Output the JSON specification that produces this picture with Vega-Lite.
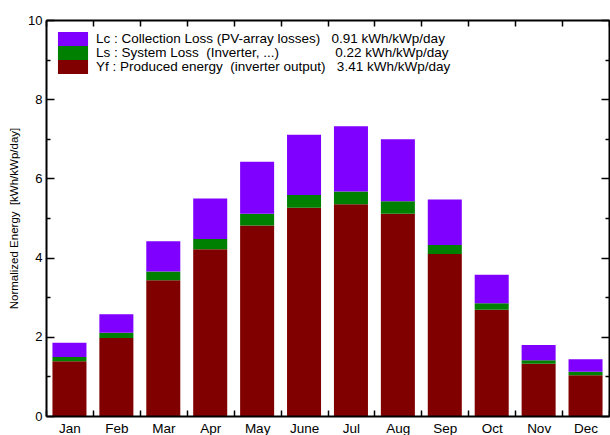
{
  "$schema": "https://vega.github.io/schema/vega-lite/v6.json",
  "width": 563,
  "height": 396,
  "autosize": {"type": "none"},
  "padding": {"left": 46, "top": 20, "right": 1, "bottom": 19},
  "background": "white",
  "data": {"values": [
    {"m": "Jan", "t": "Yf", "v": 1.38}, {"m": "Jan", "t": "Ls", "v": 0.11}, {"m": "Jan", "t": "Lc", "v": 0.36},
    {"m": "Feb", "t": "Yf", "v": 1.97}, {"m": "Feb", "t": "Ls", "v": 0.13}, {"m": "Feb", "t": "Lc", "v": 0.47},
    {"m": "Mar", "t": "Yf", "v": 3.43}, {"m": "Mar", "t": "Ls", "v": 0.22}, {"m": "Mar", "t": "Lc", "v": 0.76},
    {"m": "Apr", "t": "Yf", "v": 4.21}, {"m": "Apr", "t": "Ls", "v": 0.26}, {"m": "Apr", "t": "Lc", "v": 1.02},
    {"m": "May", "t": "Yf", "v": 4.81}, {"m": "May", "t": "Ls", "v": 0.30}, {"m": "May", "t": "Lc", "v": 1.31},
    {"m": "June", "t": "Yf", "v": 5.26}, {"m": "June", "t": "Ls", "v": 0.32}, {"m": "June", "t": "Lc", "v": 1.52},
    {"m": "Jul", "t": "Yf", "v": 5.35}, {"m": "Jul", "t": "Ls", "v": 0.32}, {"m": "Jul", "t": "Lc", "v": 1.65},
    {"m": "Aug", "t": "Yf", "v": 5.11}, {"m": "Aug", "t": "Ls", "v": 0.31}, {"m": "Aug", "t": "Lc", "v": 1.57},
    {"m": "Sep", "t": "Yf", "v": 4.09}, {"m": "Sep", "t": "Ls", "v": 0.23}, {"m": "Sep", "t": "Lc", "v": 1.15},
    {"m": "Oct", "t": "Yf", "v": 2.68}, {"m": "Oct", "t": "Ls", "v": 0.17}, {"m": "Oct", "t": "Lc", "v": 0.72},
    {"m": "Nov", "t": "Yf", "v": 1.32}, {"m": "Nov", "t": "Ls", "v": 0.09}, {"m": "Nov", "t": "Lc", "v": 0.38},
    {"m": "Dec", "t": "Yf", "v": 1.03}, {"m": "Dec", "t": "Ls", "v": 0.09}, {"m": "Dec", "t": "Lc", "v": 0.31}
  ]},
  "layer": [
    {
      "mark": {"type": "bar", "width": {"band": 0.725}},
      "encoding": {
        "x": {
          "field": "m", "type": "nominal", "sort": null,
          "scale": {"paddingInner": 0, "paddingOuter": 0},
          "axis": {
            "orient": "bottom", "title": null, "labelAngle": 0,
            "tickBand": "extent", "tickSize": -6, "tickColor": "black", "tickWidth": 1.5,
            "labelPadding": 11, "labelFont": "Liberation Sans", "labelFontSize": 13.5, "labelColor": "black",
            "domainColor": "black", "domainWidth": 2, "zindex": 1
          }
        },
        "y": {
          "field": "v", "type": "quantitative", "stack": "zero",
          "scale": {"domain": [0, 10], "nice": false},
          "axis": {
            "orient": "left", "title": "Normalized Energy \u00a0[kWh/kWp/day]",
            "values": [0, 1, 2, 3, 4, 5, 6, 7, 8, 9, 10],
            "labelExpr": "datum.value % 2 === 0 ? datum.label : ''",
            "tickSize": {"condition": {"test": "datum.value % 2 === 0", "value": -8}, "value": -4},
            "tickColor": "black", "tickWidth": 1.5,
            "labelPadding": 12, "labelFont": "Liberation Sans", "labelFontSize": 13, "labelColor": "black",
            "titleFont": "Liberation Sans", "titleFontSize": 11.5, "titleFontWeight": "normal", "titleColor": "black",
            "titlePadding": 8,
            "domainColor": "black", "domainWidth": 2, "zindex": 1, "grid": false
          }
        },
        "color": {
          "field": "t", "type": "nominal",
          "scale": {"domain": ["Lc", "Ls", "Yf"], "range": ["#8000ff", "#008000", "#800000"]},
          "legend": {
            "orient": "none", "legendX": 20, "legendY": 12, "title": null, "padding": 0,
            "symbolType": "M-2.15,-1H2.15V1H-2.15Z", "symbolSize": 196, "symbolStrokeWidth": 0, "symbolOpacity": 1,
            "labelFont": "Liberation Sans", "labelFontSize": 13.5, "labelColor": "black", "labelLimit": 0,
            "labelOffset": 16, "rowPadding": 0,
            "labelExpr": "datum.label == 'Lc' ? 'Lc : Collection Loss (PV-array losses)\u00a0\u00a0\u00a00.91 kWh/kWp/day' : datum.label == 'Ls' ? 'Ls : System Loss \u00a0(Inverter, ...)\u00a0\u00a0\u00a0\u00a0\u00a0\u00a0\u00a0\u00a0\u00a0\u00a0\u00a0\u00a0\u00a0\u00a0\u00a00.22 kWh/kWp/day' : 'Yf : Produced energy \u00a0(inverter output)\u00a0\u00a0\u00a03.41 kWh/kWp/day'"
          }
        },
        "order": {"field": "t", "sort": "descending"}
      }
    },
    {
      "mark": {"type": "bar", "width": {"band": 0.725}, "opacity": 0},
      "encoding": {
        "x": {
          "field": "m", "type": "nominal", "sort": null,
          "axis": {
            "orient": "top", "title": null, "labels": false,
            "tickBand": "extent", "tickSize": -6, "tickColor": "black", "tickWidth": 1.5,
            "domainColor": "black", "domainWidth": 2, "zindex": 1
          }
        },
        "y": {
          "field": "v", "type": "quantitative", "stack": "zero",
          "axis": {
            "orient": "right", "title": null, "labels": false,
            "values": [0, 1, 2, 3, 4, 5, 6, 7, 8, 9, 10],
            "tickSize": {"condition": {"test": "datum.value % 2 === 0", "value": -8}, "value": -4},
            "tickColor": "black", "tickWidth": 1.5,
            "domainColor": "black", "domainWidth": 2, "zindex": 1, "grid": false
          }
        },
        "color": {"field": "t", "type": "nominal", "legend": null},
        "order": {"field": "t", "sort": "descending"}
      }
    }
  ],
  "resolve": {"axis": {"x": "independent", "y": "independent"}},
  "config": {"view": {"stroke": null}}
}
